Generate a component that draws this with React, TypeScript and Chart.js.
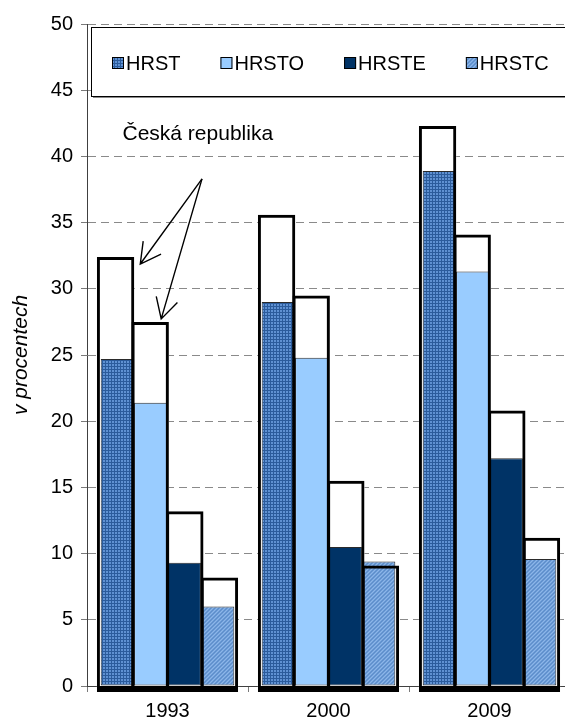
import React, { useEffect, useRef } from 'react';
import { Chart, registerables } from 'chart.js';

Chart.register(...registerables);

// ---- data ----
const years = ['1993', '2000', '2009'];
const seriesNames = ['HRST', 'HRSTO', 'HRSTE', 'HRSTC'];
// filled bars
const hrst = [24.7, 29.0, 38.9];
const hrsto = [21.4, 24.8, 31.3];
const hrste = [9.3, 10.5, 17.2];
const hrstc = [6.0, 9.4, 9.6];
// outlined bars (Česká republika)
const czHrst = [32.4, 35.6, 42.3];
const czHrsto = [27.5, 29.5, 34.1];
const czHrste = [13.2, 15.5, 20.8];
const czHrstc = [8.2, 9.1, 11.2];
const yMin = 0;
const yMax = 50;
const yStep = 5;
const yTitle = 'v procentech';
const annotationText = 'Česká republika';

const FONT = "'Liberation Sans', Arial, sans-serif";

function makeGridPattern(ctx: CanvasRenderingContext2D) {
  const c = document.createElement('canvas');
  c.width = 3;
  c.height = 3;
  const g = c.getContext('2d')!;
  g.fillStyle = '#5F91D2';
  g.fillRect(0, 0, 3, 3);
  g.fillStyle = '#2B5B9B';
  g.fillRect(0, 0, 3, 1);
  g.fillRect(0, 0, 1, 3);
  return ctx.createPattern(c, 'repeat')!;
}

function makeDiagPattern(ctx: CanvasRenderingContext2D) {
  const c = document.createElement('canvas');
  c.width = 4;
  c.height = 4;
  const g = c.getContext('2d')!;
  g.fillStyle = '#6F9FD9';
  g.fillRect(0, 0, 4, 4);
  for (let i = 0; i < 4; i++) {
    g.fillStyle = '#8DB6E8';
    g.fillRect(i, (4 - i) % 4, 1, 1);
    g.fillStyle = '#5D8DC9';
    g.fillRect(i, (6 - i) % 4, 1, 1);
  }
  return ctx.createPattern(c, 'repeat')!;
}

function drawArrow(ctx: CanvasRenderingContext2D, sx: number, sy: number, tx: number, ty: number, len: number, ang: number) {
  const a = Math.atan2(sy - ty, sx - tx);
  ctx.beginPath();
  ctx.moveTo(sx, sy);
  ctx.lineTo(tx, ty);
  ctx.moveTo(tx + len * Math.cos(a + ang), ty + len * Math.sin(a + ang));
  ctx.lineTo(tx, ty);
  ctx.lineTo(tx + len * Math.cos(a - ang), ty + len * Math.sin(a - ang));
  ctx.stroke();
}

export default function App() {
  const ref = useRef<HTMLCanvasElement>(null);

  useEffect(() => {
    const canvas = ref.current!;
    const ctx2d = canvas.getContext('2d')!;
    const fills: any[] = [makeGridPattern(ctx2d), '#99CCFF', '#003366', makeDiagPattern(ctx2d)];
    const colored = [hrst, hrsto, hrste, hrstc];
    const outlines = [czHrst, czHrsto, czHrste, czHrstc];

    const coloredSets = colored.map((d, i) => ({
      label: seriesNames[i],
      data: d,
      stack: 's' + i,
      backgroundColor: fills[i],
      borderColor: '#2a2a2a',
      borderWidth: 1,
      borderSkipped: false,
      order: 2,
      categoryPercentage: 0.83,
      barPercentage: 1.0,
    }));
    const outlineFillSets = outlines.map((d, i) => ({
      label: 'cz-fill-' + seriesNames[i],
      data: d,
      stack: 's' + i,
      backgroundColor: '#ffffff',
      borderWidth: 0,
      order: 3,
      base: -0.45,
      clip: false,
      categoryPercentage: 0.86,
      barPercentage: 1.08,
    }));
    const outlineBorderSets = outlines.map((d, i) => ({
      label: 'cz-border-' + seriesNames[i],
      data: d,
      stack: 's' + i,
      backgroundColor: 'rgba(0,0,0,0)',
      borderColor: '#000000',
      borderWidth: { top: 3, left: 3, right: 3, bottom: 6 },
      borderSkipped: false,
      order: 1,
      base: -0.45,
      clip: false,
      categoryPercentage: 0.86,
      barPercentage: 1.08,
    }));

    const legendPlugin = {
      id: 'boxLegend',
      afterDraw(chart: any) {
        const ctx = chart.ctx as CanvasRenderingContext2D;
        const area = chart.chartArea;
        const left = area.left + 4;
        const top = area.top + 3;
        const h = 69;
        const w = chart.width - left + 10;
        ctx.save();
        ctx.fillStyle = '#8a8a8a';
        ctx.fillRect(left + 2, top + 2, w, h);
        ctx.fillStyle = '#ffffff';
        ctx.fillRect(left, top, w, h);
        ctx.strokeStyle = '#000';
        ctx.lineWidth = 1;
        ctx.strokeRect(left + 0.5, top + 0.5, w, h);
        ctx.font = `20px ${FONT}`;
        ctx.textBaseline = 'middle';
        ctx.fillStyle = '#000';
        const cy = top + 36;
        let x = left + 21;
        const box = 12;
        for (let i = 0; i < 4; i++) {
          const ds = chart.data.datasets[i];
          ctx.fillStyle = ds.backgroundColor;
          ctx.fillRect(x, cy - box / 2, box, box);
          ctx.strokeStyle = '#000';
          ctx.strokeRect(x + 0.5, cy - box / 2 + 0.5, box - 1, box - 1);
          ctx.fillStyle = '#000';
          ctx.fillText(ds.label, x + box + 2, cy + 1);
          x += box + 2 + ctx.measureText(ds.label).width + 40;
        }
        ctx.restore();
      },
    };

    const annotationPlugin = {
      id: 'czAnnotation',
      afterDatasetsDraw(chart: any) {
        const ctx = chart.ctx as CanvasRenderingContext2D;
        const xs = chart.scales.x;
        const ys = chart.scales.y;
        const c0 = xs.getPixelForValue(0);
        ctx.save();
        ctx.font = `21px ${FONT}`;
        ctx.fillStyle = '#000';
        ctx.textBaseline = 'middle';
        ctx.textAlign = 'left';
        ctx.fillText(annotationText, c0 - 45, ys.getPixelForValue(41.7));
        const sx = c0 + 34.5;
        const sy = ys.getPixelForValue(38.3);
        const e1 = chart.getDatasetMeta(8).data[0];
        const e2 = chart.getDatasetMeta(9).data[0];
        ctx.strokeStyle = '#000';
        ctx.lineWidth = 1.4;
        drawArrow(ctx, sx, sy, e1.x + e1.width / 2 + 6, e1.y + 7, 23, 0.5);
        drawArrow(ctx, sx, sy, e2.x + 11, e2.y - 3, 23, 0.5);
        ctx.restore();
      },
    };

    const yTickValues: number[] = [];
    for (let v = yMin; v <= yMax; v += yStep) yTickValues.push(v);

    const chart = new Chart(canvas, {
      type: 'bar',
      data: {
        labels: years,
        datasets: [...coloredSets, ...outlineFillSets, ...outlineBorderSets] as any,
      },
      options: {
        animation: false,
        responsive: false,
        devicePixelRatio: 1,
        layout: { padding: { top: 24, right: 0, bottom: 0, left: 0 } },
        plugins: {
          legend: { display: false },
          tooltip: { enabled: false },
        },
        scales: {
          x: {
            type: 'category',
            offset: true,
            grid: { offset: true, drawOnChartArea: false, drawTicks: true, tickLength: 6, color: '#7a7a7a' },
            border: { color: '#404040', width: 1 },
            ticks: { color: '#000', font: { family: FONT, size: 20 }, padding: 7 },
            afterFit: (s: any) => { s.height = 36; },
          },
          y: {
            min: yMin,
            max: yMax,
            stacked: false,
            afterBuildTicks: (s: any) => { s.ticks = yTickValues.map((v) => ({ value: v })); },
            grid: { color: '#8a8a8a', tickLength: 6, tickBorderDash: [], tickColor: '#7a7a7a' },
            border: { color: '#404040', width: 1, dash: [8, 5] },
            ticks: { color: '#000', font: { family: FONT, size: 20 }, padding: 8 },
            title: {
              display: true,
              text: yTitle,
              color: '#000',
              font: { family: FONT, size: 21, style: 'italic' },
              padding: { top: 9, bottom: 0 },
            },
            afterFit: (s: any) => { s.width = 87; },
          },
        },
      },
      plugins: [annotationPlugin, legendPlugin],
    } as any);

    return () => chart.destroy();
  }, []);

  return (
    <div style={{ position: 'fixed', left: 0, top: 0, width: 565, height: 722, overflow: 'hidden', background: '#fff' }}>
      <canvas ref={ref} width={570} height={722} style={{ display: 'block' }} />
    </div>
  );
}
